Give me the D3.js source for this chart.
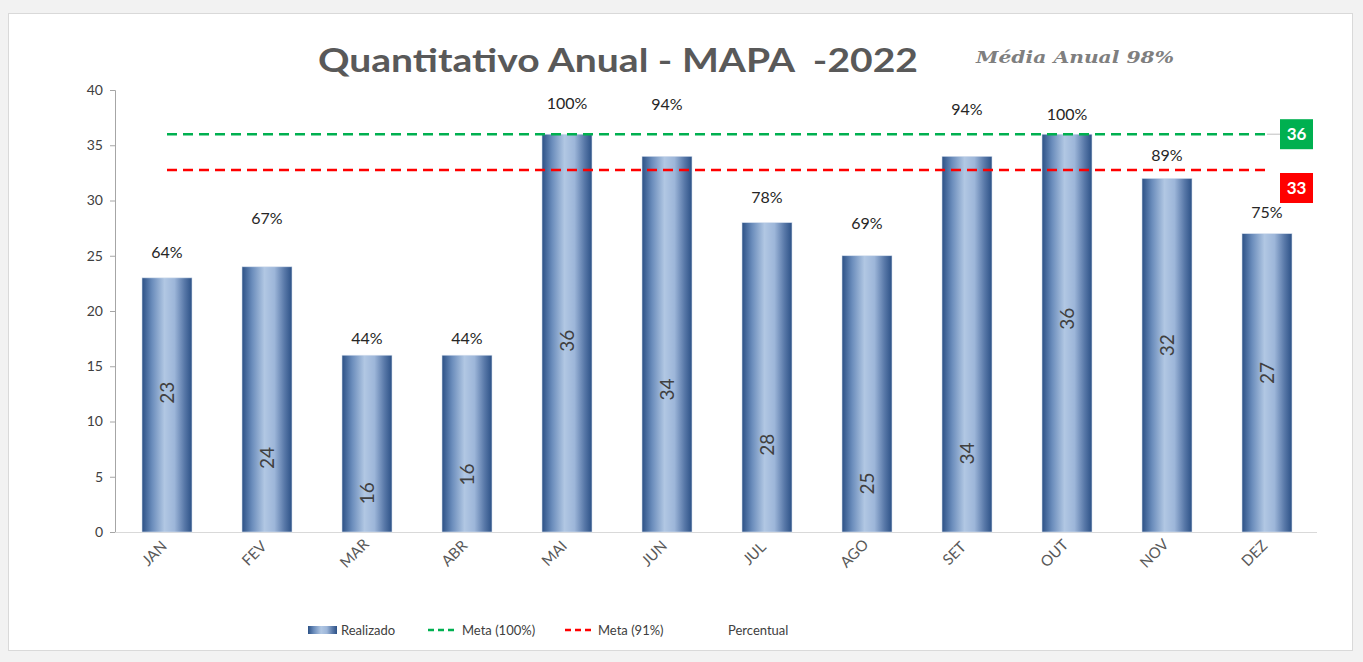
<!DOCTYPE html>
<html>
<head>
<meta charset="utf-8">
<script src="https://cdn.jsdelivr.net/npm/d3@7"></script>
<style>
  html, body { margin: 0; padding: 0; background: #f2f2f2; }
  svg { display: block; }
  text { font-family: Lato, "Open Sans", "Liberation Sans", sans-serif; }
</style>
</head>
<body>
<svg id="chart" width="1363" height="662"></svg>
<script>
// ---- data ----
const months = ["JAN","FEV","MAR","ABR","MAI","JUN","JUL","AGO","SET","OUT","NOV","DEZ"];
const realizado = [23, 24, 16, 16, 36, 34, 28, 25, 34, 36, 32, 27];
const percentual = [64, 67, 44, 44, 100, 94, 78, 69, 94, 100, 89, 75];
const meta100 = 36;
const meta91 = 32.76;
const meta100Label = "36";
const meta91Label = "33";
const yTicks = [0, 5, 10, 15, 20, 25, 30, 35, 40];
const titleText = "Quantitativo Anual - MAPA  -2022";
const subtitleText = "Média Anual 98%";
const legendNames = ["Realizado", "Meta (100%)", "Meta (91%)", "Percentual"];
// label anchors (in axis units) as placed in the original chart
const valueLabelAt = [12.6, 6.7, 3.5, 5.2, 17.3, 12.9, 7.9, 4.4, 7.1, 19.3, 16.9, 14.4];
const percentLabelAt = [25.3, 28.4, 17.6, 17.6, 38.8, 38.7, 30.3, 28.0, 38.3, 37.8, 34.1, 29.0];

// ---- layout ----
const svg = d3.select("#chart");
const x = d3.scaleBand().domain(months).range([117, 1317]).paddingInner(0.5).paddingOuter(0.25);
const y = d3.scaleLinear().domain([0, 40]).range([532, 90]);

// background frame
svg.append("rect").attr("x", 0).attr("y", 0).attr("width", 1363).attr("height", 662).attr("fill", "#f2f2f2");
svg.append("rect").attr("x", 8.5).attr("y", 13.5).attr("width", 1344).attr("height", 637)
  .attr("fill", "#ffffff").attr("stroke", "#d9d9d9").attr("stroke-width", 1);

// gradient for bars
const defs = svg.append("defs");
const grad = defs.append("linearGradient").attr("id", "barGrad").attr("x1", "0%").attr("x2", "100%").attr("y1", "0%").attr("y2", "0%");
grad.append("stop").attr("offset", "0%").attr("stop-color", "#2c5186");
grad.append("stop").attr("offset", "20%").attr("stop-color", "#6a8cbb");
grad.append("stop").attr("offset", "45%").attr("stop-color", "#b1c7e3");
grad.append("stop").attr("offset", "65%").attr("stop-color", "#9db6d9");
grad.append("stop").attr("offset", "85%").attr("stop-color", "#5878a8");
grad.append("stop").attr("offset", "100%").attr("stop-color", "#2c5186");

// title
svg.append("text").attr("x", 618).attr("y", 72).attr("text-anchor", "middle")
  .style("white-space", "pre")
  .attr("font-size", 32).attr("font-weight", 700).attr("fill", "#595959")
  .attr("textLength", 600).attr("lengthAdjust", "spacingAndGlyphs")
  .text(titleText);
svg.append("text").attr("x", 1075).attr("y", 63).attr("text-anchor", "middle")
  .style("font-family", "'DejaVu Serif', 'Liberation Serif', serif")
  .attr("font-size", 16).attr("font-weight", 700).attr("font-style", "italic").attr("fill", "#7f7f7f")
  .attr("textLength", 198).attr("lengthAdjust", "spacingAndGlyphs")
  .text(subtitleText);

// y axis
const yAxis = svg.append("g").attr("transform", "translate(115,0)")
  .call(d3.axisLeft(y).tickValues(yTicks).tickSize(5).tickPadding(7));
yAxis.select(".domain").attr("stroke", "#a6a6a6");
yAxis.selectAll(".tick line").attr("stroke", "#a6a6a6");
yAxis.selectAll(".tick text").attr("font-size", 14).attr("fill", "#404040")
  .style("font-family", "Lato, 'Open Sans', sans-serif");

// x axis
const xAxis = svg.append("g").attr("transform", "translate(0,532)")
  .call(d3.axisBottom(x).tickSize(0).tickPadding(0));
xAxis.select(".domain").attr("stroke", "#d9d9d9").attr("d", "M115,0.5H1317");
xAxis.selectAll(".tick text")
  .attr("text-anchor", "middle")
  .attr("dy", 0)
  .attr("transform", "translate(-9,25) rotate(-45)")
  .attr("font-size", 15).attr("fill", "#595959")
  .style("font-family", "Lato, 'Open Sans', sans-serif");

// bars
svg.append("g").selectAll("rect").data(realizado).join("rect")
  .attr("x", (d, i) => x(months[i]))
  .attr("y", d => y(d))
  .attr("width", x.bandwidth())
  .attr("height", d => y(0) - y(d))
  .attr("fill", "url(#barGrad)")
  .attr("stroke", "#d6e0ee").attr("stroke-width", 0.6);

// meta lines
const line = v => d3.line().x((d, i) => x(months[i]) + x.bandwidth() / 2).y(() => y(v));
svg.append("path").datum(months).attr("d", line(meta100)).attr("fill", "none")
  .attr("stroke", "#00b050").attr("stroke-width", 2.6).attr("stroke-dasharray", "10,6");
svg.append("path").datum(months).attr("d", line(meta91)).attr("fill", "none")
  .attr("stroke", "#ff0000").attr("stroke-width", 2.6).attr("stroke-dasharray", "10,6");

// meta labels
const lastX = x(months[months.length - 1]) + x.bandwidth() / 2;
svg.append("line").attr("x1", lastX).attr("x2", lastX + 13).attr("y1", y(meta100)).attr("y2", y(meta100))
  .attr("stroke", "#bfbfbf").attr("stroke-width", 1);
[[meta100, meta100Label, "#00b050"], [meta91, meta91Label, "#ff0000"]].forEach(([v, lab, col], k) => {
  const cy = k === 0 ? y(v) : y(v) + 18;
  svg.append("rect").attr("x", lastX + 13).attr("y", cy - 15).attr("width", 33).attr("height", 30).attr("fill", col);
  svg.append("text").attr("x", lastX + 29.5).attr("y", cy + 6).attr("text-anchor", "middle")
    .attr("font-size", 17).attr("font-weight", 700).attr("fill", "#ffffff").text(lab);
});

// value labels inside bars
svg.append("g").selectAll("text").data(realizado).join("text")
  .attr("transform", (d, i) => `translate(${x(months[i]) + x.bandwidth() / 2 + 7},${y(valueLabelAt[i])}) rotate(-90)`)
  .attr("text-anchor", "middle")
  .attr("font-size", 19).attr("fill", "#404040")
  .text(d => d);

// percentage labels
svg.append("g").selectAll("text").data(percentual).join("text")
  .attr("x", (d, i) => x(months[i]) + x.bandwidth() / 2)
  .attr("y", (d, i) => y(percentLabelAt[i]) + 6)
  .attr("text-anchor", "middle")
  .attr("font-size", 16).attr("fill", "#262626")
  .text(d => d + "%");

// legend
const lg = svg.append("g").attr("font-size", 13).attr("fill", "#404040");
lg.append("rect").attr("x", 308).attr("y", 626).attr("width", 29).attr("height", 8).attr("fill", "url(#barGrad)");
lg.append("text").attr("x", 341).attr("y", 635).text(legendNames[0]);
lg.append("line").attr("x1", 428).attr("x2", 456).attr("y1", 630).attr("y2", 630)
  .attr("stroke", "#00b050").attr("stroke-width", 2.6).attr("stroke-dasharray", "6,4");
lg.append("text").attr("x", 462).attr("y", 635).text(legendNames[1]);
lg.append("line").attr("x1", 565).attr("x2", 593).attr("y1", 630).attr("y2", 630)
  .attr("stroke", "#ff0000").attr("stroke-width", 2.6).attr("stroke-dasharray", "6,4");
lg.append("text").attr("x", 598).attr("y", 635).text(legendNames[2]);
lg.append("text").attr("x", 728).attr("y", 635).text(legendNames[3]);
</script>
</body>
</html>
